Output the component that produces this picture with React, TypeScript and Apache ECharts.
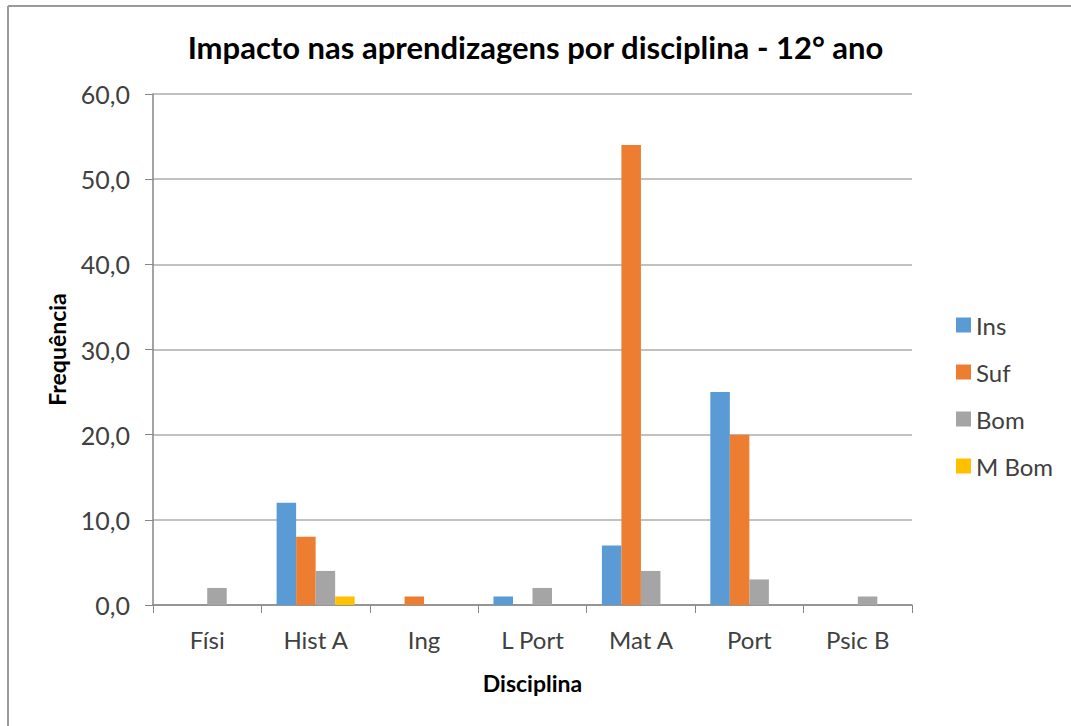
import React, { useEffect, useRef } from "react";
import * as echarts from "echarts";

const categories = ["Físi", "Hist A", "Ing", "L Port", "Mat A", "Port", "Psic B"];
const seriesNames = ["Ins", "Suf", "Bom", "M Bom"];
const insValues = [0, 12, 0, 1, 7, 25, 0];
const sufValues = [0, 8, 1, 0, 54, 20, 0];
const bomValues = [2, 4, 0, 2, 4, 3, 1];
const mBomValues = [0, 1, 0, 0, 0, 0, 0];
const colors = ["#5B9BD5", "#ED7D31", "#A5A5A5", "#FFC000"];

const FONT = "Lato";

export default function App() {
  const ref = useRef<HTMLDivElement>(null);
  useEffect(() => {
    if (!ref.current) return;
    const chart = echarts.init(ref.current, undefined, { renderer: "svg" });
    const values = [insValues, sufValues, bomValues, mBomValues];
    chart.setOption({
      animation: false,
      backgroundColor: "#ffffff",
      color: colors,
      title: {
        text: "Impacto nas aprendizagens por disciplina - 12° ano",
        left: "center",
        top: 26,
        textStyle: { fontFamily: FONT, fontWeight: "bold", fontSize: 31, color: "#000000" },
      },
      grid: { left: 153, right: 159, top: 94, bottom: 121, containLabel: false },
      legend: {
        orient: "vertical",
        left: 951,
        top: 308,
        itemWidth: 15,
        itemHeight: 15,
        itemGap: 23,
        icon: "rect",
        data: seriesNames,
        textStyle: { fontFamily: FONT, fontSize: 24, color: "#404040" },
      },
      xAxis: {
        type: "category",
        data: categories,
        name: "Disciplina",
        nameLocation: "middle",
        nameGap: 66,
        nameTextStyle: { fontFamily: FONT, fontWeight: "bold", fontSize: 23, color: "#000000" },
        axisLine: { lineStyle: { color: "#868686", width: 1.5 } },
        axisTick: { show: true, length: 8, lineStyle: { color: "#868686" } },
        axisLabel: { fontFamily: FONT, fontSize: 24, color: "#404040", margin: 22 },
      },
      yAxis: {
        type: "value",
        min: 0,
        max: 60,
        interval: 10,
        name: "Frequência",
        nameLocation: "middle",
        nameGap: 85,
        nameTextStyle: { fontFamily: FONT, fontWeight: "bold", fontSize: 23, color: "#000000" },
        axisLine: { show: true, lineStyle: { color: "#868686", width: 1.5 } },
        axisTick: { show: true, length: 8, lineStyle: { color: "#868686" } },
        axisLabel: {
          fontFamily: FONT,
          fontSize: 25,
          color: "#404040",
          margin: 23,
          formatter: (v: number) => v.toFixed(1).replace(".", ","),
        },
        splitLine: { lineStyle: { color: "#ADADAD", width: 1.5 } },
      },
      series: seriesNames.map((name, i) => ({
        name,
        type: "bar",
        data: values[i],
        barGap: "0%",
        barCategoryGap: "28%",
        itemStyle: { color: colors[i] },
      })),
      graphic: [
        { type: "line", shape: { x1: 8, y1: 6, x2: 1071, y2: 6 }, style: { stroke: "#9a9a9a", lineWidth: 2 } },
        { type: "line", shape: { x1: 8, y1: 6, x2: 8, y2: 726 }, style: { stroke: "#9a9a9a", lineWidth: 2 } },
      ],
    });
    return () => chart.dispose();
  }, []);
  return (
    <div
      ref={ref}
      style={{ position: "absolute", left: 0, top: 0, width: 1071, height: 726 }}
    />
  );
}
